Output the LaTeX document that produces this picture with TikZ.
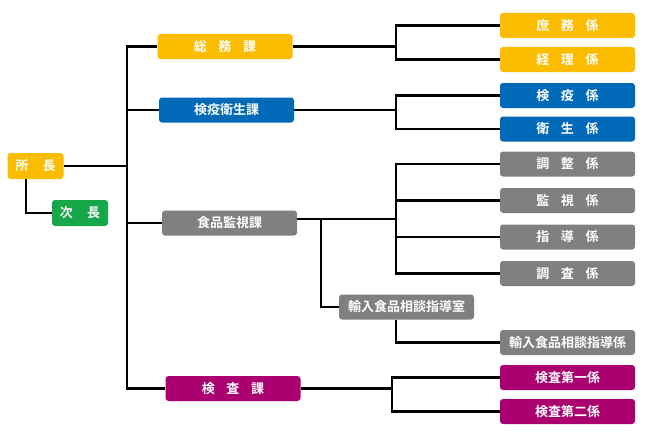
\documentclass[tikz,border=0pt]{standalone}
\usepackage{fontspec}
\newfontfamily\jp{Noto Sans CJK JP}[BoldFont={Noto Sans CJK JP Bold}]
\definecolor{cyel}{RGB}{252,188,0}
\definecolor{cblu}{RGB}{0,106,184}
\definecolor{cgry}{RGB}{128,128,128}
\definecolor{cgrn}{RGB}{22,168,72}
\definecolor{cmag}{RGB}{170,0,112}
\newcommand{\gsp}{\hspace{0.9em}}
\newcommand{\gspw}{\hspace{1.1em}}
\tikzset{
  orgbox/.style={rounded corners=3pt, text=white, font=\jp\bfseries\fontsize{13}{15}\selectfont,
    minimum width=135pt, minimum height=25pt, inner sep=0pt},
  smallbox/.style={orgbox, minimum width=56pt, minimum height=26pt},
  conn/.style={draw=black, line width=2.2pt}
}
\begin{document}
\begin{tikzpicture}[x=1pt,y=-1pt]
\useasboundingbox (0,0) rectangle (655,436);
% chief
\node[smallbox, fill=cyel] (chief) at (35.5,166) {所\gspw 長};
\node[smallbox, fill=cgrn] (vice) at (80,213) {次\gspw 長};
% departments
\node[orgbox, fill=cyel] (somu) at (225,46.5) {総\gsp 務\gsp 課};
\node[orgbox, fill=cblu] (keneki) at (226.5,110) {検疫衛生課};
\node[orgbox, fill=cgry] (shoku) at (229.5,223) {食品監視課};
\node[orgbox, fill=cmag] (kensa) at (233,388.5) {検\gsp 査\gsp 課};
% sections
\node[orgbox, fill=cyel] (shomu) at (567.5,25.5) {庶\gsp 務\gsp 係};
\node[orgbox, fill=cyel] (keiri) at (567.5,59.5) {経\gsp 理\gsp 係};
\node[orgbox, fill=cblu] (ken) at (567.5,95.5) {検\gsp 疫\gsp 係};
\node[orgbox, fill=cblu] (eisei) at (567.5,129) {衛\gsp 生\gsp 係};
\node[orgbox, fill=cgry] (chosei) at (567.5,164) {調\gsp 整\gsp 係};
\node[orgbox, fill=cgry] (kanshi) at (567.5,200.5) {監\gsp 視\gsp 係};
\node[orgbox, fill=cgry] (shido) at (567.5,237) {指\gsp 導\gsp 係};
\node[orgbox, fill=cgry] (chosa) at (567.5,273.5) {調\gsp 査\gsp 係};
\node[orgbox, fill=cgry] (room) at (406.5,307) {輸入食品相談指導室};
\node[orgbox, fill=cgry] (yunyu) at (567.5,342.5) {輸入食品相談指導係};
\node[orgbox, fill=cmag] (dai1) at (567.5,377.5) {検査第一係};
\node[orgbox, fill=cmag] (dai2) at (567.5,411.5) {検査第二係};
% junctions
\coordinate (t0) at (127,166);
\coordinate (j1) at (396,46.5);
\coordinate (j2) at (396,110);
\coordinate (j3) at (396,219);
\coordinate (k1) at (321,219);
\coordinate (j4) at (392,388.5);
% trunk
\draw[conn] (chief.east) -- (t0);
\draw[conn] (somu.west) -| (t0);
\draw[conn] (kensa.west) -| (t0);
\draw[conn] (keneki.west) -- (keneki.west -| t0);
\draw[conn] (shoku.west) -- (shoku.west -| t0);
\draw[conn] ([xshift=-9.5pt]chief.south) |- (vice.west);
% 総務課
\draw[conn] (somu.east) -- (j1);
\draw[conn] (shomu.west) -| (j1);
\draw[conn] (keiri.west) -| (j1);
% 検疫衛生課
\draw[conn] (keneki.east) -- (j2);
\draw[conn] (ken.west) -| (j2);
\draw[conn] (eisei.west) -| (j2);
% 食品監視課
\draw[conn] (shoku.east |- j3) -- (j3);
\draw[conn] (chosei.west) -| (j3);
\draw[conn] (chosa.west) -| (j3);
\draw[conn] (kanshi.west) -- (kanshi.west -| j3);
\draw[conn] (shido.west) -- (shido.west -| j3);
\draw[conn] (k1) |- (room.west);
\draw[conn] (room.south -| j3) |- (yunyu.west);
% 検査課
\draw[conn] (kensa.east) -- (j4);
\draw[conn] (dai1.west) -| (j4);
\draw[conn] (dai2.west) -| (j4);
\end{tikzpicture}
\end{document}
